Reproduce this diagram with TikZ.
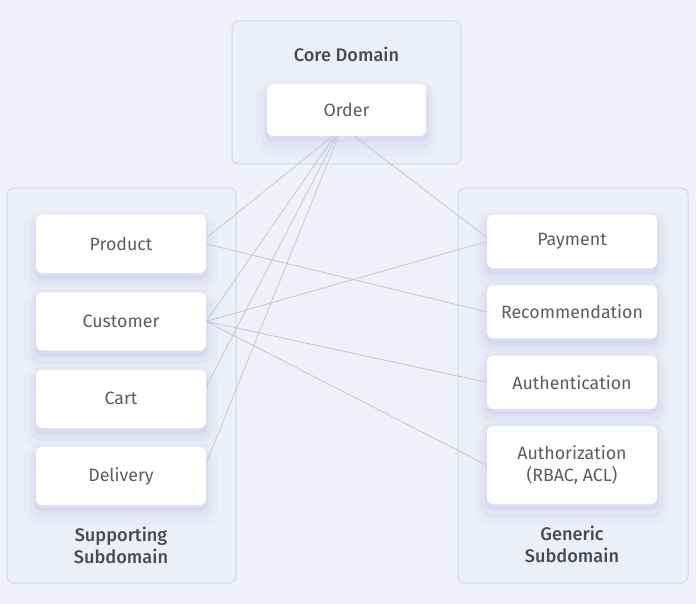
\documentclass[tikz,border=0pt]{standalone}
\usepackage{fontspec}
\setmainfont{Fira Sans}[BoldFont={Fira Sans Medium}]
\usetikzlibrary{positioning,shadows}
\definecolor{bgfill}{HTML}{EFF0F8}
\definecolor{grpfill}{HTML}{EDEFF8}
\definecolor{grpline}{HTML}{D5D7E2}
\definecolor{itemtext}{HTML}{5C5C62}
\definecolor{headtext}{HTML}{4A4A52}
\definecolor{linkline}{HTML}{C5C8D8}
\definecolor{shade}{HTML}{B8BCE6}

\begin{document}
\begin{tikzpicture}[x=1pt, y=-1pt,
  font=\fontsize{17.8}{22}\selectfont,
  grp/.style={draw=grpline, line width=1pt, rounded corners=7pt, fill=grpfill},
  item/.style={fill=white, rounded corners=6pt, minimum width=170pt, minimum height=58pt, text=itemtext, align=center, inner sep=0pt,
    general shadow={shadow yshift=-9pt, draw=shade, line width=24pt, opacity=0.09},
    general shadow={shadow yshift=-7pt, draw=shade, line width=13pt, opacity=0.12},
    general shadow={shadow yshift=-5pt, draw=shade, fill=shade, line width=4pt, opacity=0.16}},
  head/.style={font=\fontsize{18.2}{22}\selectfont\bfseries, text=headtext, align=center},
  link/.style={draw=linkline, line width=0.8pt}]

\fill[bgfill] (0,0) rectangle (696,604);
\useasboundingbox (0,0) rectangle (696,604);

% the three subdomain frames
\draw[grp] (232,21) rectangle (461,164);
\draw[grp] (7,188) rectangle (236,583);
\draw[grp] (458,188) rectangle (688,583);

% core domain
\node[head] (core) at (346.5,54) {Core Domain};
\node[item, minimum width=159pt, minimum height=52pt] (order) at (346.5,110) {Order};

% left column: supporting subdomain
\node[item] (product) at (121,244) {Product};
\node[item, below=19pt of product] (customer) {Customer};
\node[item, below=19pt of customer] (cart) {Cart};
\node[item, below=19pt of cart] (delivery) {Delivery};
\node[head] (supp) at (121,545) {Supporting\\Subdomain};

% right column: generic subdomain
\node[item, minimum height=53pt] (payment) at (572,241.5) {Payment};
\node[item, minimum height=53pt, below=17pt of payment] (recom) {Recommendation};
\node[item, minimum height=53pt, below=17pt of recom] (authn) {Authentication};
\node[item, minimum height=78pt, below=17pt of authn] (authz) {Authorization\\(RBAC, ACL)};
\node[head] (gen) at (572,544) {Generic\\Subdomain};

% links
\draw[link] ([xshift=-14pt]order.south) -- ([yshift=6pt]product.east);
\draw[link] ([xshift=-12pt]order.south) -- (customer.east);
\draw[link] ([xshift=-10pt]order.south) -- ([yshift=12pt]cart.east);
\draw[link] ([xshift=-8pt]order.south) -- ([yshift=13pt]delivery.east);
\draw[link] ([xshift=8pt]order.south) -- ([yshift=4pt]payment.west);
\draw[link] (product.east) -- (recom.west);
\draw[link] (customer.east) -- (payment.west);
\draw[link] (customer.east) -- (authn.west);
\draw[link] (customer.east) -- (authz.west);
\end{tikzpicture}
\end{document}
